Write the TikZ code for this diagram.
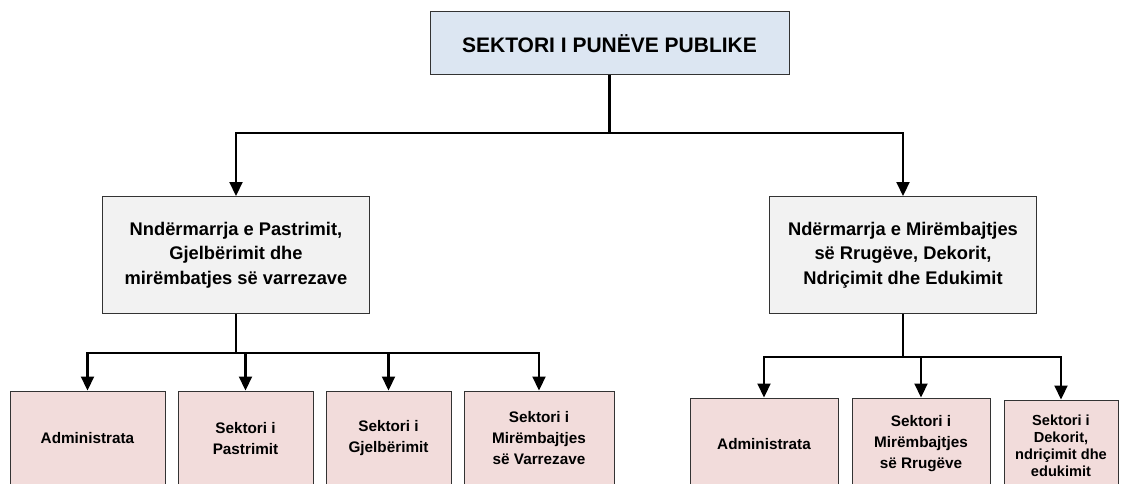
\documentclass[tikz,border=0pt]{standalone}
\usepackage{fontspec}
\setmainfont{Liberation Sans}
\usetikzlibrary{arrows.meta}
\usetikzlibrary{positioning}
\definecolor{headfill}{HTML}{DCE6F2}
\definecolor{unitfill}{HTML}{F2F2F2}
\definecolor{sectfill}{HTML}{F2DCDB}

\begin{document}
\begin{tikzpicture}[x=1pt,y=-1pt,
	box/.style={draw=black!80, line width=1pt, align=center, font=\bfseries, inner sep=0pt},
	unit/.style={box, fill=unitfill, minimum width=267pt, minimum height=117pt, font=\fontsize{18.3}{24.5}\selectfont\bfseries},
	sect/.style={box, fill=sectfill, minimum height=95pt, font=\fontsize{15.3}{21}\selectfont\bfseries},
	arr/.style={line width=2.2pt, -{Triangle[width=13pt,length=14pt]}},
	bus/.style={line width=2.2pt}]
		%page frame
		\useasboundingbox (0,0) rectangle (1122,484);
		\clip (0,0) rectangle (1122,484);

		%head box
		\node[box, fill=headfill, minimum width=359pt, minimum height=63pt, font=\fontsize{21}{24}\selectfont\bfseries] (head) at (609.5,43.5) {SEKTORI I PUNËVE PUBLIKE};

		%two enterprises
		\node[unit] (pastrim) at (236,255) {Nndërmarrja e Pastrimit,\\Gjelbërimit dhe\\mirëmbatjes së varrezave};
		\node[unit] (rrug) at (903,255) {Ndërmarrja e Mirëmbajtjes\\së Rrugëve, Dekorit,\\Ndriçimit dhe Edukimit};

		%sectors left
		\node[sect, minimum width=155pt] (admL) at (87.5,438.5) {Administrata};
		\node[sect, minimum width=135pt] (past) at (245.5,438.5) {Sektori i\\Pastrimit};
		\node[sect, minimum width=125pt] (gjel) at (388.5,438.5) {Sektori i\\Gjelbërimit};
		\node[sect, minimum width=150pt] (varr) at (539,438.5) {Sektori i\\Mirëmbajtjes\\së Varrezave};

		%sectors right
		\node[sect, minimum width=148pt, minimum height=92pt] (admR) at (764,444) {Administrata};
		\node[sect, minimum width=138pt, minimum height=92pt] (mirR) at (921,444) {Sektori i\\Mirëmbajtjes\\së Rrugëve};
		\node[sect, minimum width=114pt, minimum height=92pt, font=\fontsize{14.6}{17}\selectfont\bfseries] (deko) at (1061,446) {Sektori i\\Dekorit,\\ndriçimit dhe\\edukimit};

		%bus points
		\coordinate (busH) at (609.5,133);
		\coordinate (busP) at (236,353);
		\coordinate (busR) at (903,357);

		%connectors
		\draw[bus] (head.south) -- (busH);
		\draw[arr] (busH) -| (pastrim.north);
		\draw[arr] (busH) -| (rrug.north);

		\draw[bus] (pastrim.south) -- (busP);
		\foreach \s in {admL,past,gjel,varr}
		\draw[arr] (busP) -| (\s.north);

		\draw[bus] (rrug.south) -- (busR);
		\foreach \s in {admR,mirR,deko}
		\draw[arr] (busR) -| (\s.north);
\end{tikzpicture}
\end{document}
